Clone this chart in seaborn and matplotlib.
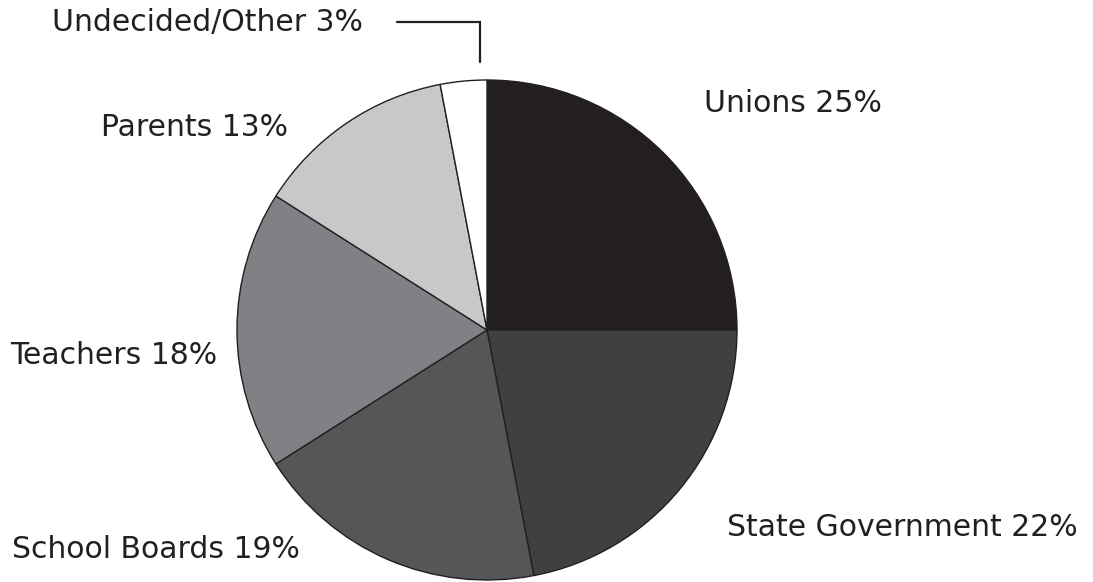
import matplotlib
matplotlib.use("Agg")
import matplotlib.pyplot as plt
import seaborn as sns

# Data
labels = ["Unions", "State Government", "School Boards", "Teachers", "Parents", "Undecided/Other"]
shares = [25, 22, 19, 18, 13, 3]
colors = ["#231f20", "#404041", "#555658", "#808184", "#c7c8ca", "#ffffff"]

# label anchor points (pixels, left edge / vertical centre)
label_x = [704, 727, 12, 10, 101, 52]
label_y = [104, 527, 550, 356, 128, 22]

sns.set_style("white")
plt.rcParams["font.family"] = ["DejaVu Sans"]

W, H = 1093, 582
fig = plt.figure(figsize=(W / 100, H / 100), dpi=100)
ax = fig.add_axes([0, 0, 1, 1])

ax.pie(shares, colors=colors, startangle=90, counterclock=False,
       center=(487, H - 330), radius=250, frame=True,
       wedgeprops=dict(edgecolor="#231f20", linewidth=1.0))
ax.set_xlim(0, W)
ax.set_ylim(0, H)
ax.set_aspect("equal")
ax.axis("off")

for lab, s, x, y in zip(labels, shares, label_x, label_y):
    ax.text(x, H - y, f"{lab} {s}%", ha="left", va="center",
            fontsize=21.5, color="#231f20")

# leader line for the small slice
ax.plot([397, 480, 480], [H - 22, H - 22, H - 62], color="#231f20", lw=1.6,
        solid_joinstyle="miter")

fig.savefig("out.png", dpi=100)
